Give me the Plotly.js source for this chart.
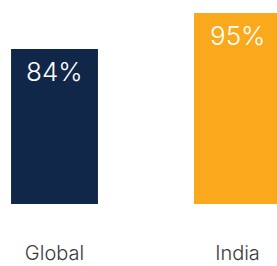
<!DOCTYPE html>
<html>
<head>
<meta charset="utf-8">
<script src="https://cdn.plot.ly/plotly-3.0.1.min.js"></script>
<style>html,body{margin:0;padding:0;background:#fff;}#chart{width:277px;height:266px;}</style>
</head>
<body>
<div id="chart"></div>
<script>
const categories = ["Global", "India"];
const values = [84, 95];
const labels = ["84%", "95%"];
const colors = ["#10274A", "#F9A91B"];

const trace = {
  type: "bar",
  x: categories,
  y: values,
  marker: {color: colors, line: {width: 0}},
  width: 0.475,
  hoverinfo: "skip"
};

const annotations = categories.map((c, i) => ({
  x: c, y: values[i], xref: "x", yref: "y",
  text: labels[i], showarrow: false,
  yanchor: "top", yshift: -5,
  font: {family: "Inter, 'Noto Sans', sans-serif", size: 26, weight: 300, color: "#ffffff"}
}));

const layout = {
  width: 277, height: 266,
  margin: {l: 0, r: 0, t: 0, b: 62, pad: 0},
  paper_bgcolor: "#ffffff", plot_bgcolor: "#ffffff",
  showlegend: false,
  xaxis: {
    type: "category",
    range: [-0.2978, 1.2158],
    showgrid: false, zeroline: false, showline: false,
    ticks: "", ticklabelstandoff: 35,
    tickfont: {family: "Inter, 'Noto Sans', sans-serif", size: 20, weight: 300, color: "#3a3a3a"}
  },
  yaxis: {
    range: [36.7, 99],
    visible: false, showgrid: false, zeroline: false
  },
  annotations: annotations
};

Plotly.newPlot("chart", [trace], layout, {staticPlot: true, displayModeBar: false});
</script>
</body>
</html>
